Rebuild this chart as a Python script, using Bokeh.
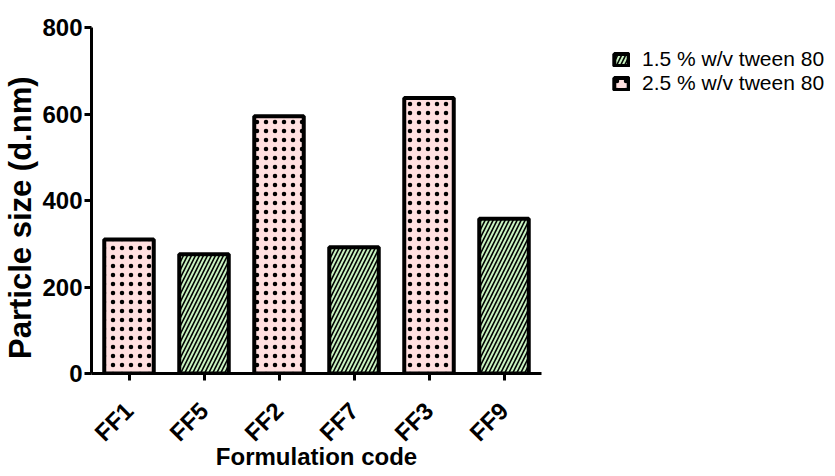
import math
from bokeh.plotting import figure
from bokeh.models import ColumnDataSource, FixedTicker, Legend, LegendItem
from bokeh.embed import file_html
from bokeh.resources import INLINE

categories = ["FF1", "FF5", "FF2", "FF7", "FF3", "FF9"]
sizes = [310, 276, 595, 292, 637, 358]
groups = ["2.5 % w/v tween 80", "1.5 % w/v tween 80", "2.5 % w/v tween 80",
          "1.5 % w/v tween 80", "2.5 % w/v tween 80", "1.5 % w/v tween 80"]
series = ["1.5 % w/v tween 80", "2.5 % w/v tween 80"]
y_ticks = [0, 200, 400, 600, 800]

FONT = "Liberation Sans"

STYLE = {
    "1.5 % w/v tween 80": dict(fill_color="#c8f2c0", line_color="black",
                               hatch_pattern="right_diagonal_line", hatch_color="black",
                               hatch_scale=8, hatch_weight=1.6),
    "2.5 % w/v tween 80": dict(fill_color="#ffe0e0", line_color="black",
                               hatch_pattern="dot", hatch_color="black",
                               hatch_scale=9, hatch_weight=2.0),
}

p = figure(x_range=categories, y_range=(0, 800), output_backend="svg",
           toolbar_location=None, frame_width=450, frame_height=346,
           min_border_left=84, min_border_top=27, min_border_bottom=87,
           min_border_right=285)
p.x_range.range_padding = 0
p.xgrid.visible = False
p.ygrid.visible = False
p.outline_line_color = None

def sub(g):
    idx = [i for i, v in enumerate(groups) if v == g]
    return ColumnDataSource(dict(x=[categories[i] for i in idx],
                                 top=[sizes[i] for i in idx]))

items = []
for g in series:
    r = p.vbar(x="x", top="top", width=0.66, source=sub(g), line_width=4, **STYLE[g])
    items.append(LegendItem(label=g, renderers=[r]))

legend = Legend(items=items, location=(71, 278), border_line_color=None,
                background_fill_alpha=0, label_text_font=FONT,
                label_text_font_size="21px", label_text_color="black",
                glyph_width=18, glyph_height=15, label_height=20,
                label_standoff=12, spacing=-4, padding=5, margin=0)
p.add_layout(legend, "right")

for ax in (p.xaxis, p.yaxis):
    ax.axis_line_width = 3
    ax.axis_line_color = "black"
    ax.major_tick_line_width = 3
    ax.major_tick_line_color = "black"
    ax.major_tick_out = 7
    ax.major_tick_in = 0
    ax.minor_tick_line_color = None
    ax.major_label_text_font = FONT
    ax.major_label_text_font_style = "bold"
    ax.major_label_text_font_size = "24px"
    ax.major_label_text_color = "black"
    ax.axis_label_text_font = FONT
    ax.axis_label_text_font_style = "bold"
    ax.axis_label_text_color = "black"

p.yaxis.ticker = FixedTicker(ticks=y_ticks)
p.yaxis.major_label_standoff = 2
p.yaxis.axis_label = "Particle size (d.nm)" + "\u00a0" * 4
p.yaxis.axis_label_text_font_size = "31px"
p.yaxis.axis_label_standoff = 1

p.xaxis.major_label_orientation = math.pi / 4
p.xaxis.major_label_standoff = 26
p.xaxis.axis_label = "Formulation code"
p.xaxis.axis_label_text_font_size = "24px"
p.xaxis.axis_label_standoff = -16

open("out.html", "w").write(file_html(p, INLINE))
